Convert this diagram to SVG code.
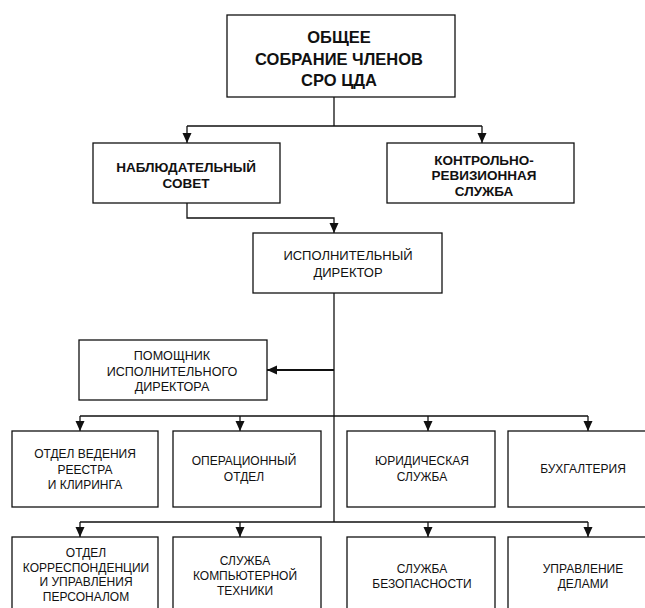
<svg xmlns="http://www.w3.org/2000/svg" width="645" height="608" viewBox="0 0 645 608">
<style>
.box{fill:#fff;stroke:#111;stroke-width:1.3}
.ln{fill:none;stroke:#111;stroke-width:1.3}
.ar{marker-end:url(#ah)}
text{font-family:"Liberation Sans",Arial,sans-serif;fill:#111;text-anchor:middle}
.t{font-size:12px}
.b{font-size:13.5px;font-weight:bold}
.h{font-size:16.5px;font-weight:bold}
</style>
<defs>
<marker id="ah" viewBox="0 0 10 10" refX="10" refY="5" markerWidth="10" markerHeight="10" markerUnits="userSpaceOnUse" orient="auto">
<path d="M0,0.5 L10,5 L0,9.5 Z" fill="#111"/>
</marker>
</defs>
<rect width="645" height="608" fill="#fff"/>
<g id="connectors">
<path class="ln" d="M334,97 V126 M187,126 H482"/>
<path class="ln ar" d="M187,126 V143"/>
<path class="ln ar" d="M482,126 V143"/>
<path class="ln ar" d="M187,203 V218 H334 V233"/>
<path class="ln" d="M334,293 V522"/>
<path class="ln ar" d="M334,370 H267" style="stroke-width:2"/>
<path class="ln" d="M80,416 H588 M80,522 H588"/>
<path class="ln ar" d="M80,416 V431"/>
<path class="ln ar" d="M240,416 V431"/>
<path class="ln ar" d="M428,416 V431"/>
<path class="ln ar" d="M588,416 V431"/>
<path class="ln ar" d="M80,522 V537"/>
<path class="ln ar" d="M240,522 V537"/>
<path class="ln ar" d="M428,522 V537"/>
<path class="ln ar" d="M588,522 V537"/>
</g>
<g id="n-general">
<rect class="box" x="227" y="15" width="228" height="82"/>
<text class="h" x="339" y="43">ОБЩЕЕ</text>
<text class="h" x="339" y="64.5">СОБРАНИЕ ЧЛЕНОВ</text>
<text class="h" x="339" y="86">СРО ЦДА</text>
</g>
<g id="n-board">
<rect class="box" x="93" y="143" width="187" height="60"/>
<text class="b" x="186" y="172">НАБЛЮДАТЕЛЬНЫЙ</text>
<text class="b" x="186" y="188">СОВЕТ</text>
</g>
<g id="n-audit">
<rect class="box" x="387" y="143" width="187" height="60"/>
<text class="b" x="484" y="165">КОНТРОЛЬНО-</text>
<text class="b" x="484" y="180">РЕВИЗИОННАЯ</text>
<text class="b" x="484" y="195.5">СЛУЖБА</text>
</g>
<g id="n-director">
<rect class="box" x="253" y="233" width="189" height="60"/>
<text class="t" x="348" y="260" style="font-size:13px">ИСПОЛНИТЕЛЬНЫЙ</text>
<text class="t" x="348" y="277" style="font-size:13px">ДИРЕКТОР</text>
</g>
<g id="n-assistant">
<rect class="box" x="79" y="340" width="188" height="60"/>
<text class="t" x="172" y="360" style="font-size:12.6px">ПОМОЩНИК</text>
<text class="t" x="172" y="375.5" style="font-size:12.6px">ИСПОЛНИТЕЛЬНОГО</text>
<text class="t" x="172" y="391" style="font-size:12.6px">ДИРЕКТОРА</text>
</g>
<g id="n-registry">
<rect class="box" x="12" y="431" width="146" height="76"/>
<text class="t" x="85" y="458">ОТДЕЛ ВЕДЕНИЯ</text>
<text class="t" x="85" y="473.5">РЕЕСТРА</text>
<text class="t" x="85" y="489">И КЛИРИНГА</text>
</g>
<g id="n-operations">
<rect class="box" x="173" y="431" width="148" height="76"/>
<text class="t" x="244" y="465">ОПЕРАЦИОННЫЙ</text>
<text class="t" x="244" y="481">ОТДЕЛ</text>
</g>
<g id="n-legal">
<rect class="box" x="347" y="431" width="148" height="76"/>
<text class="t" x="422" y="465">ЮРИДИЧЕСКАЯ</text>
<text class="t" x="422" y="481">СЛУЖБА</text>
</g>
<g id="n-accounting">
<rect class="box" x="508" y="431" width="150" height="76"/>
<text class="t" x="583" y="473">БУХГАЛТЕРИЯ</text>
</g>
<g id="n-correspondence">
<rect class="box" x="12" y="537" width="146" height="80"/>
<text class="t" x="86" y="557">ОТДЕЛ</text>
<text class="t" x="86" y="571.5">КОРРЕСПОНДЕНЦИИ</text>
<text class="t" x="86" y="586">И УПРАВЛЕНИЯ</text>
<text class="t" x="86" y="600.5">ПЕРСОНАЛОМ</text>
</g>
<g id="n-it">
<rect class="box" x="173" y="537" width="148" height="80"/>
<text class="t" x="245" y="565">СЛУЖБА</text>
<text class="t" x="245" y="580">КОМПЬЮТЕРНОЙ</text>
<text class="t" x="245" y="595">ТЕХНИКИ</text>
</g>
<g id="n-security">
<rect class="box" x="347" y="537" width="148" height="80"/>
<text class="t" x="422" y="573">СЛУЖБА</text>
<text class="t" x="422" y="588">БЕЗОПАСНОСТИ</text>
</g>
<g id="n-affairs">
<rect class="box" x="508" y="537" width="150" height="80"/>
<text class="t" x="583" y="573">УПРАВЛЕНИЕ</text>
<text class="t" x="583" y="588">ДЕЛАМИ</text>
</g>
</svg>
